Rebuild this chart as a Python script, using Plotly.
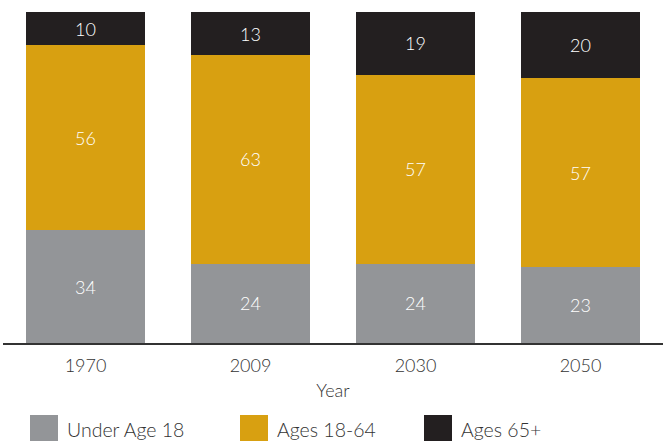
import plotly.graph_objects as go

years = ["1970", "2009", "2030", "2050"]
under18 = [34, 24, 24, 23]
ages18_64 = [56, 63, 57, 57]
ages65 = [10, 13, 19, 20]

series = [
    ("Under Age 18", under18, "#939598"),
    ("Ages 18-64", ages18_64, "#D8A011"),
    ("Ages 65+", ages65, "#231F20"),
]

W, H = 663, 441
L, R, T, B = 3, 0, 12, 98
pw = W - L - R
ph = H - T - B
FONT = "Lato"

fig = go.Figure()
for name, vals, col in series:
    fig.add_trace(go.Bar(
        x=years, y=vals, name=name, marker=dict(color=col, line=dict(width=0)),
        text=vals, textposition="inside", insidetextanchor="middle",
        textfont=dict(color="white", size=18, family=FONT, weight=300),
        showlegend=False, hoverinfo="skip",
    ))

def px_x(px):
    return (px - L) / pw

def px_y(py):
    return (H - B - py) / ph

legend_x = [30, 240, 424]
shapes = []
annotations = []
for (name, vals, col), lx in zip(series, legend_x):
    shapes.append(dict(type="rect", xref="paper", yref="paper",
                       x0=px_x(lx), x1=px_x(lx + 28), y0=px_y(441), y1=px_y(415),
                       fillcolor=col, line=dict(width=0)))
    annotations.append(dict(xref="paper", yref="paper", x=px_x(lx + 35), y=px_y(429),
                            text=name, showarrow=False, xanchor="left", yanchor="middle",
                            font=dict(size=19.5, color="#333333", family=FONT, weight=300)))

fig.update_layout(
    barmode="stack",
    bargap=0.275,
    width=W, height=H,
    margin=dict(l=L, r=R, t=T, b=B),
    paper_bgcolor="white", plot_bgcolor="white",
    font=dict(family=FONT, color="#333333", size=18, weight=300),
    uniformtext=dict(minsize=10, mode="show"),
    xaxis=dict(showline=True, linecolor="#333333", linewidth=1.5, ticks="",
               ticklabelstandoff=6,
               tickfont=dict(size=18, color="#333333", weight=300),
               title=dict(text="Year", font=dict(size=18, color="#333333", weight=300), standoff=9),
               showgrid=False, fixedrange=True),
    yaxis=dict(range=[0, 100], visible=False, showgrid=False, fixedrange=True),
    shapes=shapes,
    annotations=annotations,
    showlegend=False,
)

fig.write_html("out.html", config={"displayModeBar": False},
               post_script="document.body.style.margin='0';document.body.style.overflow='hidden';")
